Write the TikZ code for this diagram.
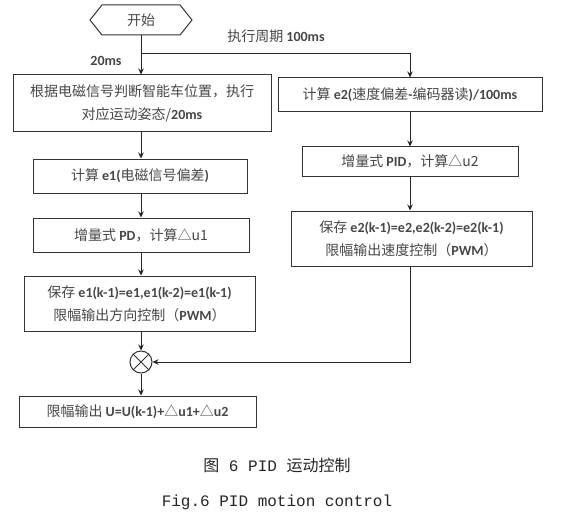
\documentclass[tikz,border=0pt]{standalone}
\usepackage{fontspec}
\setmainfont{Noto Sans CJK SC}
\newfontfamily\cjk{Noto Sans CJK SC}
\newfontfamily\latb{Carlito}[BoldFont=* Bold]
\newfontfamily\capmono{Liberation Mono}
\newcommand{\Lt}[1]{{\latb\bfseries #1}}
\usetikzlibrary{shapes.geometric,shapes.symbols,arrows.meta,calc}
\begin{document}
\begin{tikzpicture}[x=1pt,y=-1pt,
  every node/.style={text=black!72},
  box/.style={draw=black!80,line width=1pt,inner sep=2pt,align=center,font=\cjk\fontsize{14}{23}\selectfont},
  lbl/.style={font=\cjk\fontsize{14}{16}\selectfont,inner sep=1pt},
  arr/.style={draw=black!85,line width=1pt,-{Stealth[length=6pt,width=5.5pt]}},
  ln/.style={draw=black!80,line width=1pt}]
\useasboundingbox (0,0) rectangle (562,516);
\fill[white] (0,0) rectangle (562,516);
\coordinate (c) at (141,0);
\coordinate (d) at (410,0);
\node[draw=black!80,line width=1pt,shape=signal,signal to=west and east,signal pointer angle=103,
  minimum width=102pt,minimum height=30pt,inner sep=0pt,font=\cjk\fontsize{14}{16}\selectfont] (start) at (141,20) {开始};
\node[box,minimum width=258pt,minimum height=57pt] (box1) at (142,103.5) {根据电磁信号判断智能车位置，执行\\对应运动姿态/\Lt{20ms}};
\node[box,minimum width=264pt,minimum height=34pt] (box2) at (410,95) {计算 \Lt{e2(}速度偏差\Lt{-}编码器读\Lt{)/100ms}};
\node[box,minimum width=214pt,minimum height=34pt] (e1) at (140,176) {计算 \Lt{e1(}电磁信号偏差\Lt{)}};
\node[box,minimum width=216pt,minimum height=34pt] (pd) at (141,235) {增量式 \Lt{PD}，计算△u1};
\node[box,minimum width=231pt,minimum height=55pt] (save1) at (139.5,303.5) {保存 \Lt{e1(k-1)=e1,e1(k-2)=e1(k-1)}\\限幅输出方向控制（\Lt{PWM}）};
\node[draw=black!80,line width=1pt,circle,minimum size=22pt,inner sep=0pt] (circ) at (141,362) {};
\draw[ln] (circ.north east) -- (circ.south west) (circ.north west) -- (circ.south east);
\node[box,minimum width=237pt,minimum height=31pt] (out) at (137.5,411.5) {限幅输出 \Lt{U=U(k-1)+}△\Lt{u1+}△\Lt{u2}};
\node[box,minimum width=216pt,minimum height=29pt] (pid) at (410,161.5) {增量式 \Lt{PID}，计算△u2};
\node[box,minimum width=241pt,minimum height=55pt] (save2) at (411.5,238.5) {保存 \Lt{e2(k-1)=e2,e2(k-2)=e2(k-1)}\\限幅输出速度控制（\Lt{PWM}）};
\coordinate (br) at (141,54);
\node[lbl] (t20) at (106,61) {\Lt{20ms}};
\node[lbl] (t100) at (276,36) {执行周期 \Lt{100ms}};
\draw[arr] (c |- start.south) -- (c |- box1.north);
\draw[arr] (br) -| (d |- box2.north);
\draw[arr] (c |- box1.south) -- (c |- e1.north);
\draw[arr] (c |- e1.south) -- (c |- pd.north);
\draw[arr] (c |- pd.south) -- (c |- save1.north);
\draw[arr] (c |- save1.south) -- (circ.north);
\draw[arr] (circ.south) -- (c |- out.north);
\draw[arr] (d |- box2.south) -- (d |- pid.north);
\draw[arr] (d |- pid.south) -- (d |- save2.north);
\draw[arr] (d |- save2.south) |- (circ.east);
\node[font=\fontsize{16}{18}\selectfont,text=black!85] (cap1) at (277,465) {图{\capmono\ 6 PID }运动控制};
\node[font=\capmono\fontsize{16}{18}\selectfont,text=black!85] (cap2) at (277,502) {Fig.6 PID motion control};
\end{tikzpicture}
\end{document}
